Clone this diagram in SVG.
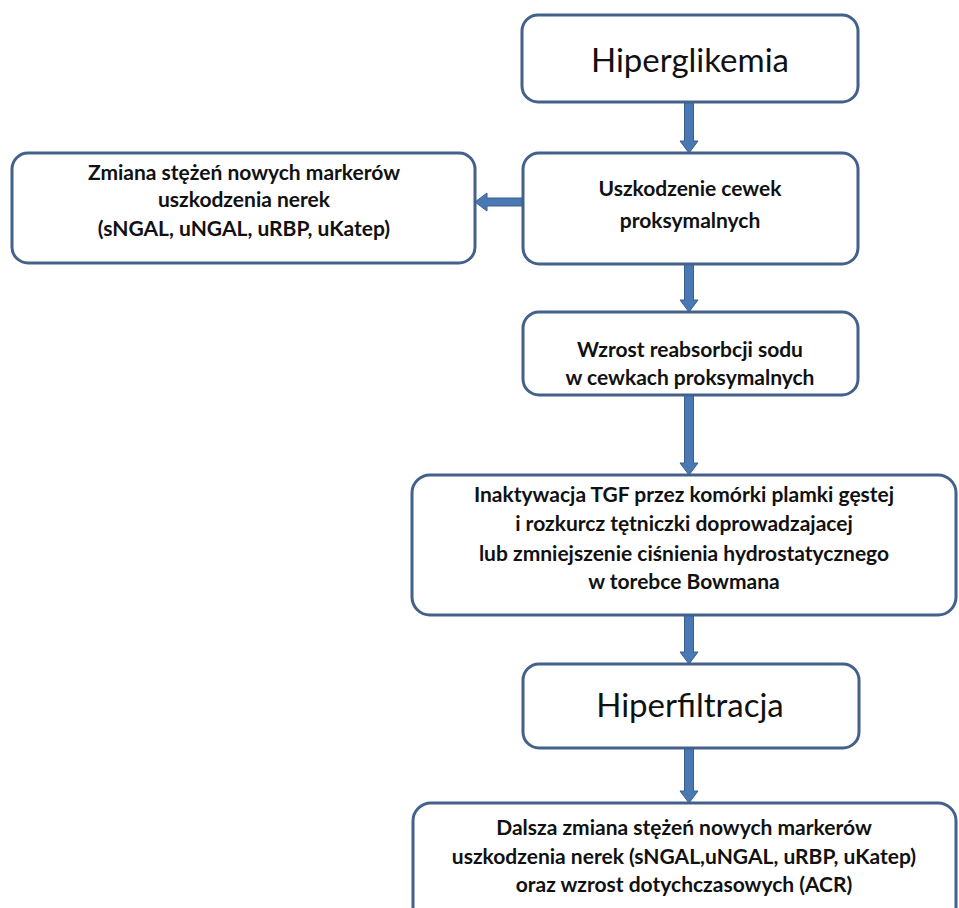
<svg xmlns="http://www.w3.org/2000/svg" width="959" height="908" viewBox="0 0 959 908">
<style>
.box{fill:#ffffff;stroke:#43618a;stroke-width:3}
.arr{fill:#4a78b2;stroke:#3a5f8f;stroke-width:1}
.t{font-family:Lato,"Open Sans","Liberation Sans",sans-serif;fill:#111;text-anchor:middle}
.b{font-weight:bold;font-size:21px}
.big{font-size:33px}
</style>
<rect width="959" height="908" fill="#ffffff"/>
<g id="connectors">
<polygon class="arr" points="684.5,102 693.5,102 693.5,141 698,141 689,153 680,141 684.5,141"/>
<polygon class="arr" points="684.5,264 693.5,264 693.5,300 698,300 689,312 680,300 684.5,300"/>
<polygon class="arr" points="684.5,395 693.5,395 693.5,463 698,463 689,475 680,463 684.5,463"/>
<polygon class="arr" points="684.5,615 693.5,615 693.5,652 698,652 689,664 680,652 684.5,652"/>
<polygon class="arr" points="684.5,748 693.5,748 693.5,791 698,791 689,803 680,791 684.5,791"/>
<polygon class="arr" points="522,198 487,198 487,193 475,202 487,211 487,206 522,206"/>
</g>
<g id="n1">
<rect class="box" x="522" y="15" width="336" height="87" rx="16"/>
<text class="t big" x="690" y="72">Hiperglikemia</text>
</g>
<g id="n2">
<rect class="box" x="523" y="153" width="335" height="111" rx="16"/>
<text class="t b" x="690" y="196">Uszkodzenie cewek</text>
<text class="t b" x="690" y="228">proksymalnych</text>
</g>
<g id="n_left">
<rect class="box" x="12" y="153" width="463" height="110" rx="16"/>
<text class="t b" x="244" y="180">Zmiana stężeń nowych markerów</text>
<text class="t b" x="244" y="207">uszkodzenia nerek</text>
<text class="t b" x="244" y="236">(sNGAL, uNGAL, uRBP, uKatep)</text>
</g>
<g id="n3">
<rect class="box" x="523" y="312" width="335" height="83" rx="16"/>
<text class="t b" x="690" y="357">Wzrost reabsorbcji sodu</text>
<text class="t b" x="690" y="385">w cewkach proksymalnych</text>
</g>
<g id="n4">
<rect class="box" x="412" y="475" width="544" height="140" rx="18"/>
<text class="t b" x="684" y="502">Inaktywacja TGF przez komórki plamki gęstej</text>
<text class="t b" x="684" y="531">i rozkurcz tętniczki doprowadzajacej</text>
<text class="t b" x="684" y="561">lub zmniejszenie ciśnienia hydrostatycznego</text>
<text class="t b" x="684" y="589">w torebce Bowmana</text>
</g>
<g id="n5">
<rect class="box" x="523" y="664" width="336" height="84" rx="16"/>
<text class="t big" x="690" y="717">Hiperfiltracja</text>
</g>
<g id="n6">
<rect class="box" x="413" y="803" width="543" height="130" rx="18"/>
<text class="t b" x="684" y="835">Dalsza zmiana stężeń nowych markerów</text>
<text class="t b" x="684" y="864">uszkodzenia nerek (sNGAL,uNGAL, uRBP, uKatep)</text>
<text class="t b" x="684" y="892">oraz wzrost dotychczasowych (ACR)</text>
</g>
</svg>
